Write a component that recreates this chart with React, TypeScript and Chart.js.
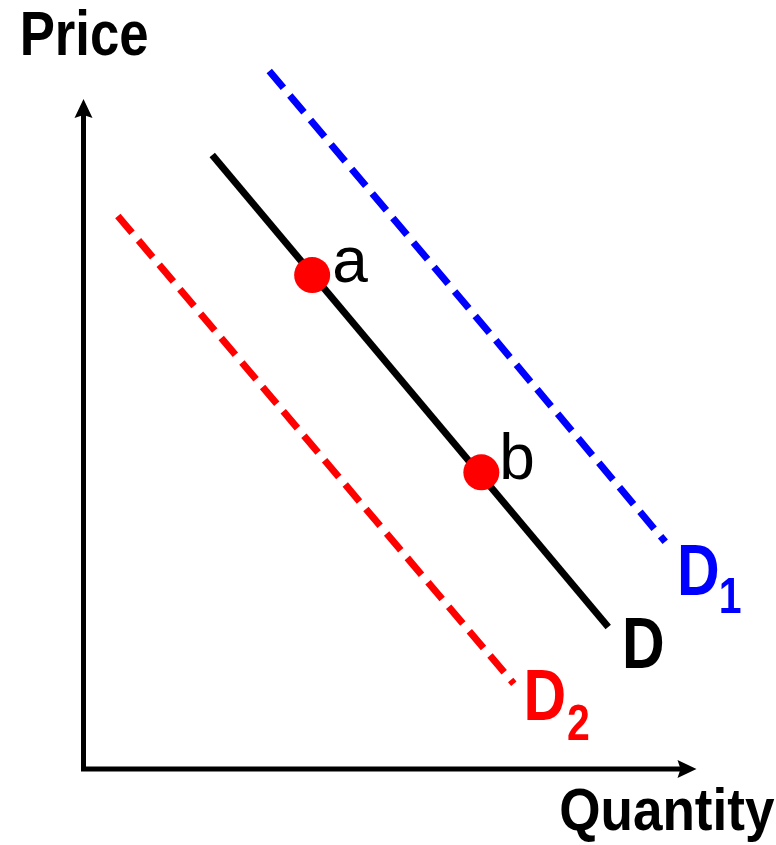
import React, { useEffect, useRef } from "react";
import { Chart, registerables } from "chart.js";

Chart.register(...registerables);

// Demand curves (quantity, price) endpoints in economic units
const demandQ = [2.1, 8.56];
const demandP = [10.08, 2.33];
const demand1Q = [3.03, 9.49];
const demand1P = [11.46, 3.73];
const demand2Q = [0.56, 7.02];
const demand2P = [9.08, 1.4];
// Points a and b on the original demand curve
const pointLabels = ["a", "b"];
const pointQ = [3.73, 6.49];
const pointP = [8.11, 4.87];
// Axis extents
const axisMaxQ = 10;
const axisMaxP = 11;
const axisTitles = ["Price", "Quantity"];
const curveNames = ["D", "D", "D"];
const curveSubs = ["", "1", "2"];

const FONT = "'Liberation Sans', Arial, sans-serif";

function toXY(xs: number[], ys: number[]) {
  return xs.map((x, i) => ({ x, y: ys[i] }));
}

function drawInk(
  ctx: CanvasRenderingContext2D,
  text: string,
  inkLeft: number,
  baseline: number,
  font: string,
  color: string,
  sx: number
) {
  ctx.save();
  ctx.font = font;
  const m = ctx.measureText(text);
  const x = inkLeft + m.actualBoundingBoxLeft * sx;
  ctx.translate(x, baseline);
  ctx.scale(sx, 1);
  ctx.fillStyle = color;
  ctx.textAlign = "left";
  ctx.textBaseline = "alphabetic";
  ctx.fillText(text, 0, 0);
  ctx.restore();
  return x + m.actualBoundingBoxRight * sx;
}

function fitInk(
  ctx: CanvasRenderingContext2D,
  text: string,
  inkLeft: number,
  baseline: number,
  size: number,
  inkWidth: number
) {
  ctx.save();
  ctx.font = `bold ${size}px ${FONT}`;
  const m = ctx.measureText(text);
  const w = m.actualBoundingBoxLeft + m.actualBoundingBoxRight;
  ctx.restore();
  const sx = inkWidth / w;
  drawInk(ctx, text, inkLeft, baseline, `bold ${size}px ${FONT}`, "#000000", sx);
}

const axesPlugin = {
  id: "econAxes",
  beforeDatasetsDraw(chart: any) {
    const { ctx, scales } = chart;
    const xs = scales.x;
    const ys = scales.y;
    const ox = xs.getPixelForValue(0);
    const oy = ys.getPixelForValue(0);
    const tx = xs.getPixelForValue(axisMaxQ);
    const ty = ys.getPixelForValue(axisMaxP);
    ctx.save();
    ctx.strokeStyle = "#000000";
    ctx.fillStyle = "#000000";
    ctx.lineWidth = 5;
    ctx.lineCap = "square";
    ctx.beginPath();
    ctx.moveTo(ox, oy);
    ctx.lineTo(ox, ty + 14);
    ctx.moveTo(ox, oy);
    ctx.lineTo(tx - 14, oy);
    ctx.stroke();
    // arrow heads
    ctx.beginPath();
    ctx.moveTo(ox, ty);
    ctx.lineTo(ox - 9, ty + 19);
    ctx.lineTo(ox, ty + 16);
    ctx.lineTo(ox + 9, ty + 19);
    ctx.closePath();
    ctx.fill();
    ctx.beginPath();
    ctx.moveTo(tx, oy);
    ctx.lineTo(tx - 19, oy - 9);
    ctx.lineTo(tx - 16, oy);
    ctx.lineTo(tx - 19, oy + 9);
    ctx.closePath();
    ctx.fill();
    ctx.restore();
  },
  afterDatasetsDraw(chart: any) {
    const { ctx, scales } = chart;
    const xs = scales.x;
    const ys = scales.y;
    const ox = xs.getPixelForValue(0);
    const oy = ys.getPixelForValue(0);
    const ty = ys.getPixelForValue(axisMaxP);
    // axis titles
    fitInk(ctx, axisTitles[0], ox - 60.5, ty - 44, 63, 124);
    fitInk(ctx, axisTitles[1], 561, oy + 61, 60, 214);

    // curve labels
    const ends = [
      { q: demandQ[1], p: demandP[1], color: "#000000", dx: 17, dy: 41, sdy: 0 },
      { q: demand1Q[1], p: demand1P[1], color: "#0000FF", dx: 15, dy: 53, sdy: 18 },
      { q: demand2Q[1], p: demand2P[1], color: "#FF0000", dx: 13, dy: 36, sdy: 20 },
    ];
    ends.forEach((e, i) => {
      const px = xs.getPixelForValue(e.q);
      const py = ys.getPixelForValue(e.p);
      const right = drawInk(ctx, curveNames[i], px + e.dx, py + e.dy, `bold 72px ${FONT}`, e.color, 0.82);
      if (curveSubs[i]) {
        drawInk(ctx, curveSubs[i], right + 4, py + e.dy + e.sdy, `bold 50px ${FONT}`, e.color, 0.82);
      }
    });

    // point labels
    pointLabels.forEach((t, i) => {
      const px = xs.getPixelForValue(pointQ[i]);
      const py = ys.getPixelForValue(pointP[i]);
      drawInk(ctx, t, px + 22, py + 7, `64px ${FONT}`, "#000000", 1);
    });
  },
};

export default function App() {
  const ref = useRef<HTMLCanvasElement | null>(null);
  useEffect(() => {
    if (!ref.current) return;
    const chart = new Chart(ref.current, {
      type: "line",
      data: {
        datasets: [
          {
            label: "points",
            data: toXY(pointQ, pointP),
            showLine: false,
            pointRadius: 18,
            pointBackgroundColor: "#FF0000",
            pointBorderWidth: 0,
            pointBorderColor: "#FF0000",
            order: 0,
            clip: false as any,
          },
          {
            label: "D",
            data: toXY(demandQ, demandP),
            borderColor: "#000000",
            borderWidth: 7,
            borderCapStyle: "butt",
            pointRadius: 0,
            order: 1,
            clip: false as any,
          },
          {
            label: "D1",
            data: toXY(demand1Q, demand1P),
            borderColor: "#0000FF",
            borderWidth: 7,
            borderDash: [22, 10],
            borderCapStyle: "butt",
            pointRadius: 0,
            order: 2,
            clip: false as any,
          },
          {
            label: "D2",
            data: toXY(demand2Q, demand2P),
            borderColor: "#FF0000",
            borderWidth: 7,
            borderDash: [22, 10],
            borderCapStyle: "butt",
            pointRadius: 0,
            order: 3,
            clip: false as any,
          },
        ],
      },
      options: {
        animation: false,
        responsive: false,
        events: [],
        layout: { padding: { left: 83.5, right: 79.5, top: 99, bottom: 76 } },
        plugins: { legend: { display: false }, tooltip: { enabled: false }, title: { display: false } },
        scales: {
          x: { type: "linear", min: 0, max: axisMaxQ, display: false },
          y: { type: "linear", min: 0, max: axisMaxP, display: false },
        },
      },
      plugins: [axesPlugin],
    });
    return () => chart.destroy();
  }, []);
  return (
    <div style={{ position: "absolute", left: 0, top: 0, width: 776, height: 845, background: "#ffffff" }}>
      <canvas ref={ref} width={776} height={845} style={{ width: 776, height: 845, display: "block" }} />
    </div>
  );
}
